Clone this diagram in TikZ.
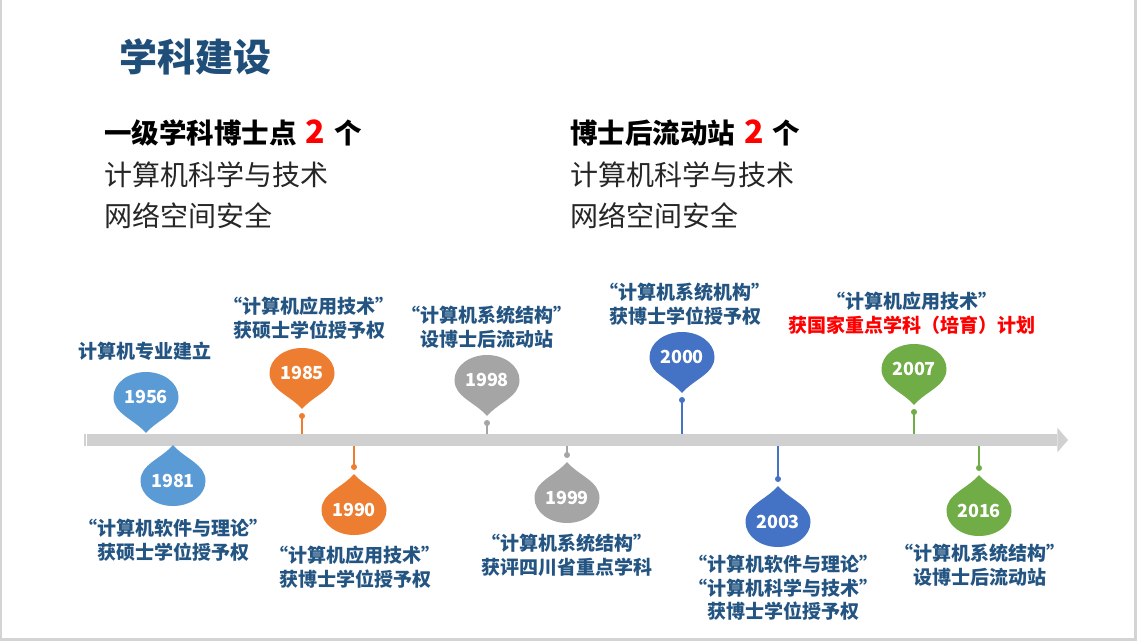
\documentclass[tikz,border=0pt]{standalone}
\usepackage{fontspec}
\setmainfont{Noto Sans CJK SC}
\usetikzlibrary{calc}
\definecolor{ttl}{HTML}{1F4E79}
\definecolor{lblue}{HTML}{245582}
\definecolor{bodygray}{HTML}{262626}
\definecolor{bargray}{HTML}{D0D0D0}
\definecolor{frame}{HTML}{D4D4D4}
\definecolor{mkA}{HTML}{5B9BD5}
\definecolor{mkB}{HTML}{ED7D31}
\definecolor{mkC}{HTML}{A5A5A5}
\definecolor{mkD}{HTML}{4472C4}
\definecolor{mkE}{HTML}{70AD47}
\definecolor{hotred}{HTML}{FF0000}
\newcommand\upmark[5]{%
  \pic[fill=#4] at (#2,#3) {drop};
  \node[yr] (#1) at (#2,#3) {#5};}
\newcommand\downmark[5]{%
  \pic[fill=#4,yscale=-1] at (#2,#3) {drop};
  \node[yr] (#1) at (#2,#3) {#5};}
\begin{document}
\begin{tikzpicture}[x=1pt,y=-1pt,
  yr/.style={text=white,font=\fontsize{18pt}{20pt}\selectfont\bfseries,inner sep=0pt},
  lbl/.style={text=lblue,font=\fontsize{19pt}{23.5pt}\selectfont\bfseries,align=center,inner sep=0pt},
  head/.style={text=black,font=\fontsize{27.5pt}{30pt}\selectfont\bfseries,anchor=west,inner sep=0pt},
  body/.style={text=bodygray,font=\fontsize{28pt}{32pt}\selectfont,anchor=west,inner sep=0pt},
  stalk/.style={line width=1.2pt},
  drop/.pic={\fill (-32.5,0) arc[start angle=180,end angle=360,x radius=32.5,y radius=25]
     .. controls (32.5,17) and (12,22) .. (0,36)
     .. controls (-12,22) and (-32.5,17) .. (-32.5,0) -- cycle;}]
\useasboundingbox (0,0) rectangle (1137,641);
\fill[white] (0,0) rectangle (1137,641);
\fill[frame] (1134,0) rectangle (1137,641);
\fill[frame] (0,638) rectangle (1137,641);
\fill[frame] (0,0) rectangle (1.5,641);
% title
\node[text=ttl,font=\fontsize{38pt}{40pt}\selectfont\bfseries,inner sep=0pt] (title) at (195,57) {学科建设};
% left column
\node[head] (h1) at (104,133) {一级学科博士点\hspace{9pt}{\color{hotred}\fontsize{32pt}{30pt}\selectfont 2}\hspace{9pt}个};
\node[body] (l1) at (104,175) {计算机科学与技术};
\node[body] (l2) at (104,216) {网络空间安全};
% right column
\node[head] (h2) at (570,133) {博士后流动站\hspace{9pt}{\color{hotred}\fontsize{32pt}{30pt}\selectfont 2}\hspace{9pt}个};
\node[body] (r1) at (570,175) {计算机科学与技术};
\node[body] (r2) at (570,216) {网络空间安全};
% timeline bar
\node[fill=bargray,minimum width=970pt,minimum height=12pt,inner sep=0pt,anchor=west] (bar) at (87,440) {};
\fill[bargray] (bar.north east) -- ++(0,-6) -- (1068,440) -- ($(bar.south east)+(0,6)$) -- cycle;
\fill[bargray] (84,434) rectangle (85.5,446);
% markers above
\upmark{y1956}{146}{397}{mkA}{1956}
\upmark{y1985}{302}{373}{mkB}{1985}
\upmark{y1998}{487}{380}{mkC}{1998}
\upmark{y2000}{682}{357}{mkD}{2000}
\upmark{y2007}{914}{369}{mkE}{2007}
% markers below
\downmark{y1981}{173}{481}{mkA}{1981}
\downmark{y1990}{354}{510}{mkB}{1990}
\downmark{y1999}{567}{498}{mkC}{1999}
\downmark{y2003}{778}{522}{mkD}{2003}
\downmark{y2016}{979}{511}{mkE}{2016}
% stalks
\foreach \n/\c/\s in {y1985/mkB/1,y1998/mkC/1,y2000/mkD/1,y2007/mkE/1,y1990/mkB/-1,y1999/mkC/-1,y2003/mkD/-1,y2016/mkE/-1}{
  \coordinate (\n d) at ($(\n)+(0,43*\s)$);
  \fill[\c] (\n d) circle (3pt);
  \ifnum\s=1
    \draw[\c,stalk] (\n d) -- (\n d |- bar.north);
  \else
    \draw[\c,stalk] (\n d) -- (\n d |- bar.south);
  \fi
}
% labels
\node[lbl] (t1956) at (145,351) {计算机专业建立};
\node[lbl] (t1985) at (309,318) {“计算机应用技术”\\获硕士学位授予权};
\node[lbl] (t1998) at (487,327) {“计算机系统结构”\\设博士后流动站};
\node[lbl] (t2000) at (685,304) {“计算机系统机构”\\获博士学位授予权};
\node[lbl] (t2007) at (912,313) {“计算机应用技术”\\{\color{hotred}获国家重点学科（培育）计划}};
\node[lbl] (t1981) at (173,540) {“计算机软件与理论”\\获硕士学位授予权};
\node[lbl] (t1990) at (355,567) {“计算机应用技术”\\获博士学位授予权};
\node[lbl] (t1999) at (567,555) {“计算机系统结构”\\获评四川省重点学科};
\node[lbl] (t2003) at (783,588) {“计算机软件与理论”\\“计算机科学与技术”\\获博士学位授予权};
\node[lbl] (t2016) at (980,565) {“计算机系统结构”\\设博士后流动站};
\end{tikzpicture}
\end{document}
